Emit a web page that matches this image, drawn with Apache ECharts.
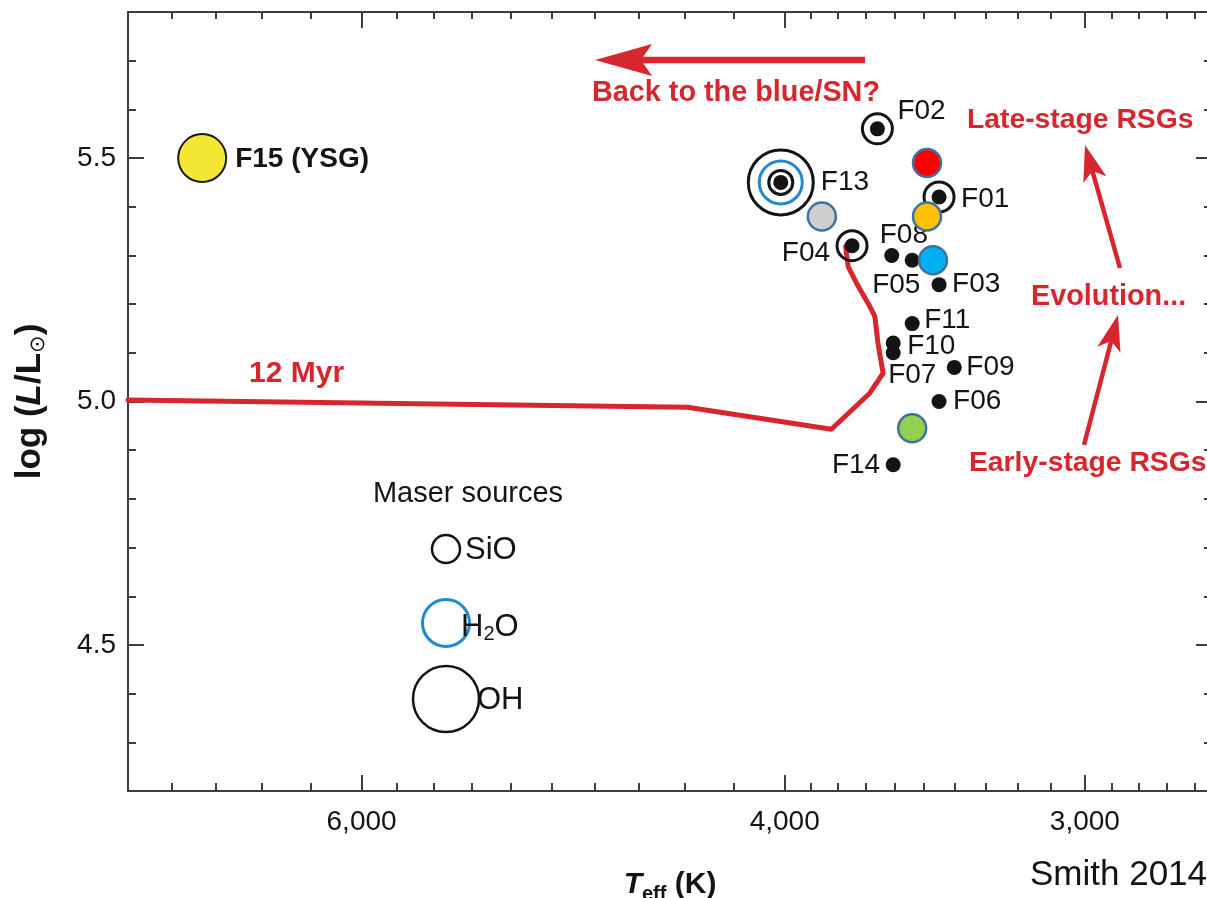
<!DOCTYPE html>
<html><head><meta charset="utf-8">
<script src="https://cdn.jsdelivr.net/npm/echarts@6/dist/echarts.min.js"></script>
<style>html,body{margin:0;padding:0;background:#fff}#c{width:1207px;height:898px}</style>
</head><body><div id="c"></div>
<script>
// ---------------- data ----------------
const starNames = ['F01','F02','F03','F04','F05','F06','F07','F08','F09','F10','F11','F13','F14'];
const starTeff  = [3450, 3660, 3450, 3750, 3540, 3450, 3605, 3610, 3400, 3605, 3540, 4015, 3605];
const starLogL  = [5.42, 5.56, 5.24, 5.32, 5.29, 5.00, 5.10, 5.30, 5.07, 5.12, 5.16, 5.45, 4.87];
const sioStars = ['F01','F02','F04','F13'];
const h2oStars = ['F13'];
const ohStars  = ['F13'];
const ysgNames = ['F15 (YSG)'];
const ysgTeff  = [6990];
const ysgLogL  = [5.50];
const markTeff = [3490, 3490, 3860, 3470, 3540];
const markLogL = [5.49, 5.38, 5.38, 5.29, 4.945];
const trackTeff = [7505, 4390, 3825, 3687, 3640, 3652, 3658, 3669, 3693, 3734, 3764, 3773];
const trackLogL = [5.003, 4.988, 4.943, 5.017, 5.058, 5.099, 5.12, 5.175, 5.202, 5.243, 5.277, 5.318];
const xMajorTicks  = [6000, 4000, 3000];
const xMajorLabels = ['6,000', '4,000', '3,000'];
const xMinorTicks  = [7200, 6900, 6600, 6300, 5800, 5600, 5400, 5200, 5000, 4800, 4600, 4400, 4200,
                      3900, 3800, 3700, 3600, 3500, 3400, 3300, 3200, 3100, 2925, 2850, 2775, 2700];
const yMajorTicks  = [4.5, 5.0, 5.5];
const yMajorLabels = ['4.5', '5.0', '5.5'];
const yMinorTicks  = [4.3, 4.4, 4.6, 4.7, 4.8, 4.9, 5.1, 5.2, 5.3, 5.4, 5.6, 5.7];
const teffRange = [2656, 7505];
const logLRange = [4.2, 5.8];

// ---------------- styling ----------------
const RED = '#d7262e';
const INK = '#141414';
const AX = '#3d3d3d';
const BLUE_RING = '#2389cb';
const FONT = '"Liberation Sans", Arial, sans-serif';
const markColors = ['#ff0000', '#ffc000', '#d0cece', '#00b0f0', '#92d050'];
const labelPlace = {
  F01: ['left', 22, 2],  F02: ['left', 20, -18], F03: ['left', 13, 0],  F04: ['right', -22, 8],
  F05: ['left', -40, 25], F06: ['left', 14, 0],  F07: ['left', -5, 22], F08: ['left', -12, -20],
  F09: ['left', 12, 0],  F10: ['left', 14, 3],   F11: ['left', 12, -3], F13: ['left', 40, 0],
  F14: ['right', -13, 0]
};

const lg = v => Math.log10(v);
const xMin = lg(teffRange[0]), xMax = lg(teffRange[1]);
const starPt = n => { const i = starNames.indexOf(n); return [lg(starTeff[i]), starLogL[i]]; };

function xAxisDef(pos, ticks, len, withLabels) {
  const a = {
    type: 'value', gridIndex: 0, position: pos, inverse: true, min: xMin, max: xMax,
    axisLine: { show: true, onZero: false, lineStyle: { color: AX, width: 2 } },
    axisTick: { show: true, inside: true, length: len, customValues: ticks.map(lg), lineStyle: { color: AX, width: 2 } },
    axisLabel: { show: false },
    splitLine: { show: false }, minorTick: { show: false }
  };
  if (withLabels) {
    a.axisLabel = {
      show: true, customValues: xMajorTicks.map(lg), margin: 17, fontSize: 28, color: INK, fontFamily: FONT,
      formatter: v => { const i = xMajorTicks.findIndex(t => Math.abs(lg(t) - v) < 1e-6); return i >= 0 ? xMajorLabels[i] : ''; }
    };
    a.name = '{bi|T}{sub|eff}{b| (K)}';
    a.nameLocation = 'middle';
    a.nameGap = 75;
    a.nameTextStyle = {
      color: INK, fontFamily: FONT,
      rich: {
        bi: { fontSize: 30, fontWeight: 'bold', fontStyle: 'italic', color: INK, fontFamily: FONT },
        sub: { fontSize: 20, fontWeight: 'bold', color: INK, fontFamily: FONT, padding: [18, 0, 0, 0] },
        b: { fontSize: 30, fontWeight: 'bold', color: INK, fontFamily: FONT }
      }
    };
  }
  return a;
}
function yAxisDef(pos, ticks, len, withLabels) {
  const a = {
    type: 'value', gridIndex: 0, position: pos, min: logLRange[0], max: logLRange[1],
    axisLine: { show: true, onZero: false, lineStyle: { color: AX, width: 2 } },
    axisTick: { show: true, inside: true, length: len, customValues: ticks, lineStyle: { color: AX, width: 2 } },
    axisLabel: { show: false },
    splitLine: { show: false }, minorTick: { show: false }
  };
  if (withLabels) {
    a.axisLabel = {
      show: true, customValues: yMajorTicks, margin: 12, fontSize: 28, color: INK, fontFamily: FONT,
      formatter: v => { const i = yMajorTicks.findIndex(t => Math.abs(t - v) < 1e-6); return i >= 0 ? yMajorLabels[i] : ''; }
    };
    a.name = '{b|log (}{bi|L}{b|/L}{sub|⊙}{b|)}';
    a.nameLocation = 'middle';
    a.nameRotate = 90;
    a.nameGap = 79;
    a.nameTextStyle = {
      color: INK, fontFamily: FONT,
      rich: {
        b: { fontSize: 35, fontWeight: 'bold', color: INK, fontFamily: FONT },
        bi: { fontSize: 35, fontWeight: 'bold', fontStyle: 'italic', color: INK, fontFamily: FONT },
        sub: { fontSize: 21, color: INK, fontFamily: '"DejaVu Sans", sans-serif', padding: [17, 0, 0, 0] }
      }
    };
  }
  return a;
}

const ringStyle = (c, w) => ({ color: 'rgba(0,0,0,0)', borderColor: c, borderWidth: w, opacity: 1 });

const series = [
  { type: 'line', name: 'track', silent: true, z: 2, symbol: 'none', showSymbol: false,
    data: trackTeff.map((t, i) => [lg(t), trackLogL[i]]),
    lineStyle: { color: RED, width: 5, join: 'round', cap: 'round', opacity: 1 } },
  { type: 'scatter', name: 'OH', silent: true, z: 3, symbolSize: 65,
    data: ohStars.map(n => ({ name: n, value: starPt(n) })), itemStyle: ringStyle(INK, 3) },
  { type: 'scatter', name: 'H2O', silent: true, z: 3, symbolSize: 43,
    data: h2oStars.map(n => ({ name: n, value: starPt(n) })), itemStyle: ringStyle(BLUE_RING, 3) },
  { type: 'scatter', name: 'SiO', silent: true, z: 3,
    data: sioStars.map(n => ({ name: n, value: starPt(n), symbolSize: n === 'F13' ? 24 : 30 })),
    itemStyle: ringStyle(INK, 3) },
  { type: 'scatter', name: 'stars', silent: true, z: 4, symbolSize: 15,
    itemStyle: { color: INK, opacity: 1 },
    label: { show: true, formatter: '{b}', color: INK, fontSize: 28, fontFamily: FONT, textBorderWidth: 0 },
    data: starNames.map((n, i) => {
      const p = labelPlace[n];
      return { name: n, value: [lg(starTeff[i]), starLogL[i]],
        label: { show: true, position: 'inside', align: p[0], verticalAlign: 'middle', offset: [p[1], p[2]],
                 color: INK, textBorderWidth: 0 } };
    }) },
  { type: 'scatter', name: 'marks', silent: true, z: 5, symbolSize: 28,
    data: markTeff.map((t, i) => ({ value: [lg(t), markLogL[i]],
      itemStyle: { color: markColors[i], borderColor: '#41719c', borderWidth: 2.5, opacity: 1 } })) },
  { type: 'scatter', name: 'YSG', silent: true, z: 5, symbolSize: 48,
    itemStyle: { color: '#f3e733', borderColor: '#1a1a1a', borderWidth: 2, opacity: 1 },
    data: ysgTeff.map((t, i) => ({ name: ysgNames[i], value: [lg(t), ysgLogL[i]],
      label: { show: true, position: 'inside', align: 'left', verticalAlign: 'middle', offset: [33, 1],
               formatter: '{b}', color: INK, fontSize: 28, fontWeight: 'bold', fontFamily: FONT, textBorderWidth: 0 } })) }
];

// ---------------- annotations (pixel space) ----------------
function arrow(x1, y1, x2, y2, w, headLen, headHalf, notch) {
  const dx = x2 - x1, dy = y2 - y1, len = Math.hypot(dx, dy), ux = dx / len, uy = dy / len, nx = -uy, ny = ux;
  const bx = x2 - ux * headLen, by = y2 - uy * headLen;
  const mx = x2 - ux * notch, my = y2 - uy * notch;
  return [
    { type: 'line', silent: true, z: 10, shape: { x1: x1, y1: y1, x2: mx + ux * 3, y2: my + uy * 3 },
      style: { stroke: RED, lineWidth: w } },
    { type: 'polygon', silent: true, z: 10,
      shape: { points: [[x2, y2], [bx + nx * headHalf, by + ny * headHalf], [mx, my], [bx - nx * headHalf, by - ny * headHalf]] },
      style: { fill: RED } }
  ];
}
function txt(s, x, y, size, weight, color, align, rich) {
  const st = { text: s, fontSize: size, fontWeight: weight, fontFamily: FONT, fill: color,
    align: align || 'left', textAlign: align || 'left', verticalAlign: 'middle', textVerticalAlign: 'middle' };
  if (rich) st.rich = rich;
  return { type: 'text', silent: true, z: 10, x: x, y: y, style: st };
}
function ring(cx, cy, r, color, w) {
  return { type: 'circle', silent: true, z: 10, shape: { cx: cx, cy: cy, r: r },
    style: { fill: 'none', stroke: color, lineWidth: w } };
}
const graphics = [].concat(
  arrow(865, 60, 595, 60, 6.5, 57, 16, 46),
  arrow(1120, 268, 1085, 145, 4.5, 36, 12, 27),
  arrow(1084, 445, 1118, 315, 4.5, 36, 12, 27),
  [
    txt('Back to the blue/SN?', 592, 93, 28.8, 'bold', RED),
    txt('Late-stage RSGs', 967, 120, 28.3, 'bold', RED),
    txt('Evolution...', 1031, 297, 28.8, 'bold', RED),
    txt('Early-stage RSGs', 969, 463, 28.3, 'bold', RED),
    txt('12 Myr', 249, 374, 30, 'bold', RED),
    txt('Smith 2014', 1030, 875, 35, 'normal', INK),
    txt('Maser sources', 468, 494, 29, 'normal', INK, 'center'),
    ring(446, 549, 14, INK, 2.5),
    txt('SiO', 465, 550, 31, 'normal', INK),
    ring(446, 623, 23.5, BLUE_RING, 3),
    txt('{a|H}{s|2}{a|O}', 461, 627, 31, 'normal', INK, 'left', {
      a: { fontSize: 31, fontFamily: FONT, fill: INK, color: INK },
      s: { fontSize: 20, fontFamily: FONT, fill: INK, color: INK, padding: [15, 0, 0, 0] } }),
    ring(446, 699, 33, INK, 2.5),
    txt('OH', 477, 700, 31, 'normal', INK)
  ]
);

const option = {
  animation: false,
  backgroundColor: '#ffffff',
  textStyle: { fontFamily: FONT },
  grid: { left: 128, top: 12, width: 1084, height: 779, containLabel: false, outerBoundsMode: 'none' },
  xAxis: [
    xAxisDef('bottom', xMajorTicks, 16, true),
    xAxisDef('bottom', xMinorTicks, 8, false),
    xAxisDef('top', xMajorTicks, 16, false),
    xAxisDef('top', xMinorTicks, 7, false)
  ],
  yAxis: [
    yAxisDef('left', yMajorTicks, 16, true),
    yAxisDef('left', yMinorTicks, 8, false),
    yAxisDef('right', yMajorTicks, 16, false),
    yAxisDef('right', yMinorTicks, 8, false)
  ],
  series: series,
  graphic: graphics
};
const chart = echarts.init(document.getElementById('c'));
chart.setOption(option);
</script>
</body></html>
